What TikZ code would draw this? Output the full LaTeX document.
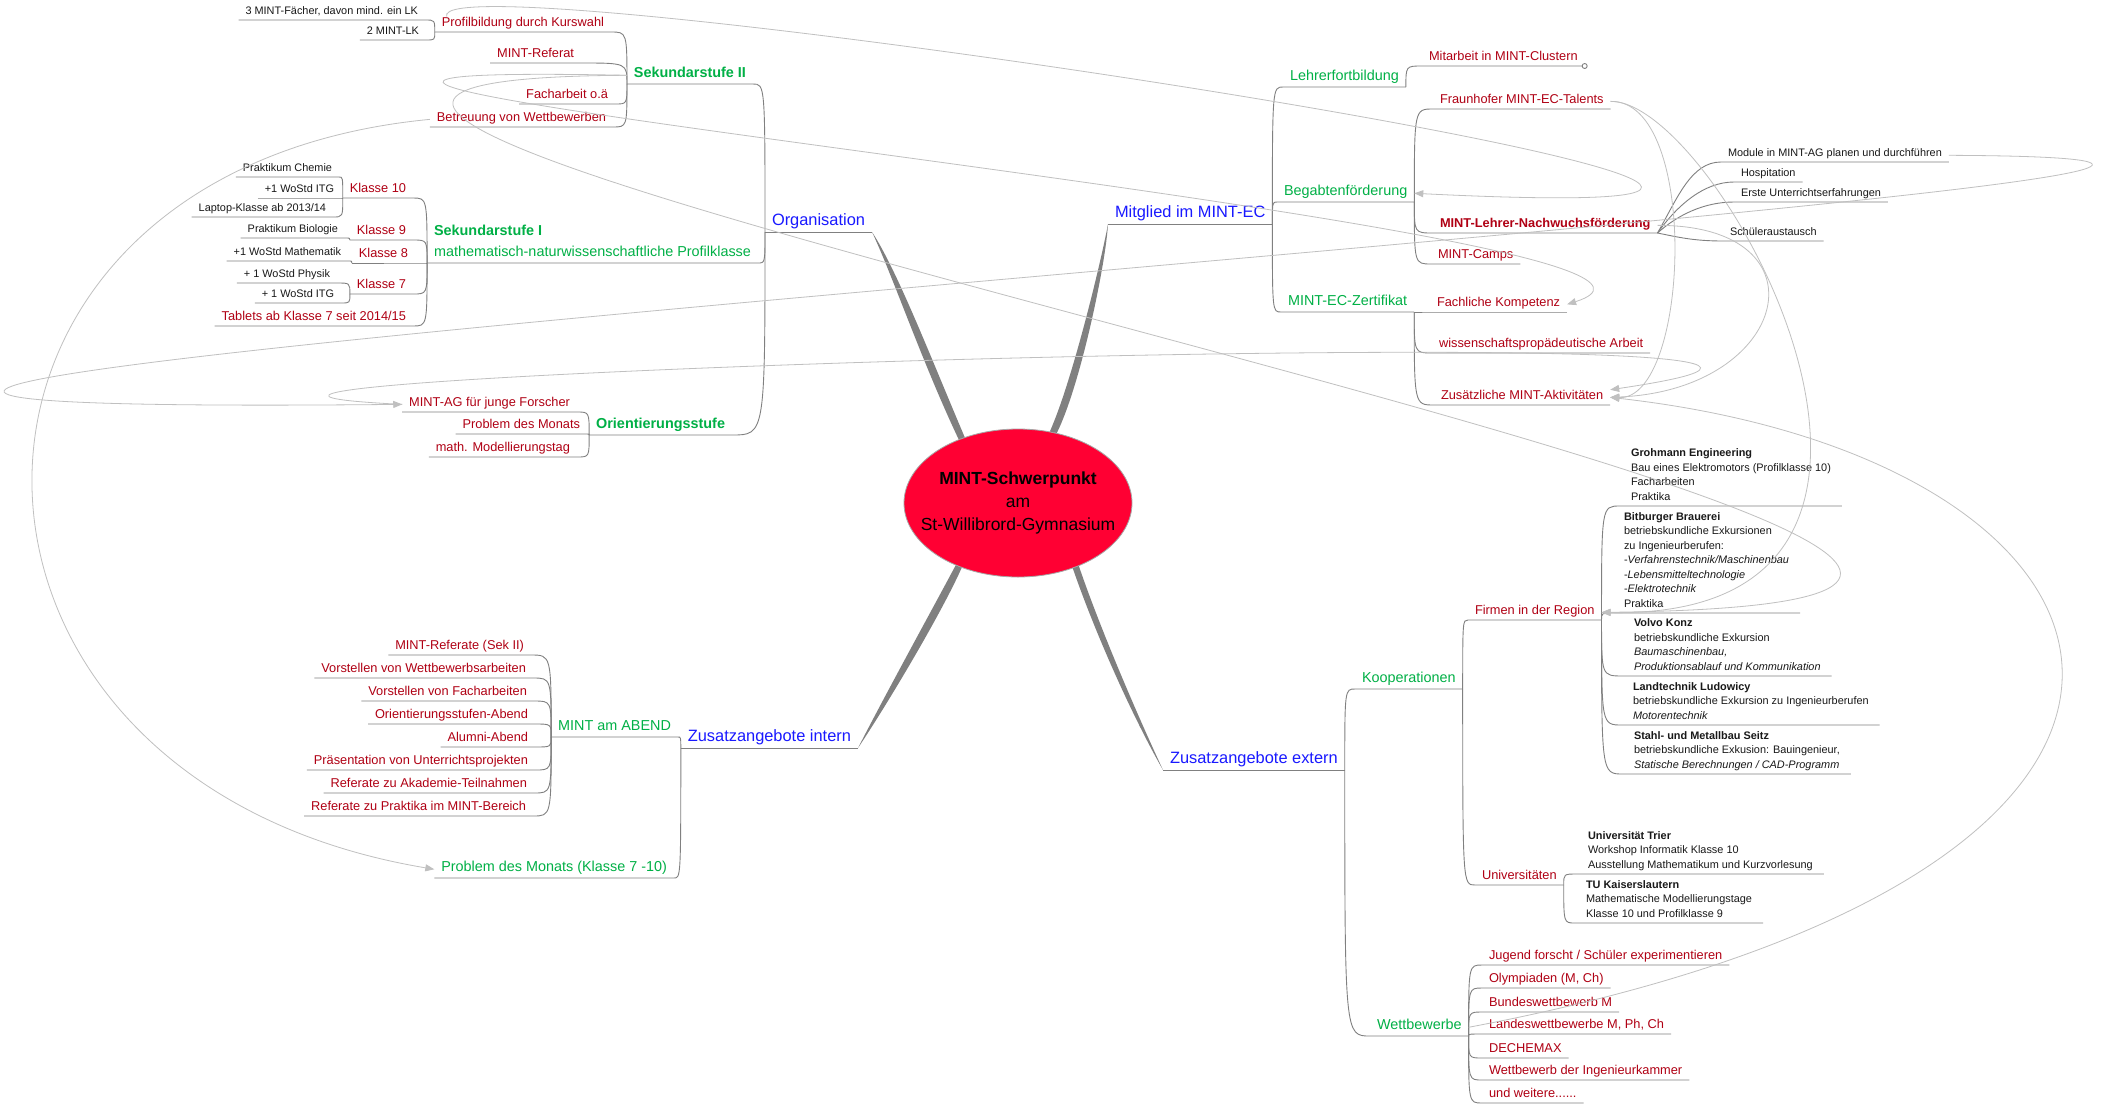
\documentclass[tikz,border=0pt]{standalone}
\usepackage{fontspec}
\setsansfont{Liberation Sans}
\usetikzlibrary{arrows.meta}
\usetikzlibrary{shapes}

\definecolor{lineGray}{RGB}{128,128,128}
\definecolor{relGray}{RGB}{192,192,192}
\definecolor{topicBlue}{RGB}{25,25,255}
\definecolor{topicGreen}{RGB}{0,176,70}
\definecolor{topicRed}{RGB}{176,0,20}
\definecolor{smallText}{RGB}{25,25,25}
\definecolor{coreRed}{RGB}{255,0,51}

\begin{document}
\begin{tikzpicture}[x=1pt, y=-1pt, font=\sffamily]
	\tikzstyle{nodeStyle} = [inner xsep=7pt, inner ysep=0pt, outer sep=0pt]
	\tikzstyle{blueStyle} = [nodeStyle, text depth=7pt, text=topicBlue, font=\sffamily\fontsize{16.4}{19}\selectfont]
	\tikzstyle{greenStyle} = [nodeStyle, text depth=7pt, text=topicGreen, font=\sffamily\fontsize{14.4}{17}\selectfont]
	\tikzstyle{greenBoldStyle} = [greenStyle, font=\sffamily\bfseries\fontsize{14.4}{17}\selectfont]
	\tikzstyle{sekStyle} = [nodeStyle, align=left, text=topicGreen, font=\sffamily\fontsize{14.4}{21}\selectfont]
	\tikzstyle{redStyle} = [nodeStyle, text depth=6pt, text=topicRed, font=\sffamily\fontsize{12.8}{15}\selectfont]
	\tikzstyle{redBoldStyle} = [redStyle, font=\sffamily\bfseries\fontsize{12.8}{15}\selectfont]
	\tikzstyle{smallStyle} = [nodeStyle, text depth=5.5pt, text=smallText, font=\sffamily\fontsize{10.9}{13}\selectfont]
	\tikzstyle{blockStyle} = [nodeStyle, inner xsep=11pt, align=left, text=smallText, font=\sffamily\fontsize{10.9}{14.5}\selectfont]
	\tikzstyle{coreStyle} = [shape=ellipse, minimum width=228pt, minimum height=148pt, inner sep=-40pt, align=center, fill=coreRed, draw=lineGray!70, line width=0.8pt, font=\sffamily\fontsize{17.5}{23}\selectfont]
	\tikzstyle{branchStyle} = [draw=lineGray, line width=0.9pt]
	\tikzstyle{trunkStyle} = [fill=lineGray]
	\tikzstyle{relationStyle} = [draw=relGray, line width=0.8pt, -{Triangle[length=9pt, width=7pt]}]

	\useasboundingbox (0,0) rectangle (2117,1104);
	\fill[white] (0,0) rectangle (2117,1104);

	% centre and main topics
	\node[coreStyle] (core) at (1018,503) {\textbf{MINT-Schwerpunkt}\\am\\St-Willibrord-Gymnasium};
	\node[blueStyle, anchor=south east] (org) at (872,232) {Organisation};
	\node[blueStyle, anchor=south east] (zint) at (858,748) {Zusatzangebote intern};
	\node[blueStyle, anchor=south west] (mec) at (1108,224) {Mitglied im MINT-EC};
	\node[blueStyle, anchor=south west] (zext) at (1163,770) {Zusatzangebote extern};

	% Organisation
	\node[greenBoldStyle, anchor=south east] (sek2) at (753,84) {Sekundarstufe II};
	\node[redStyle, anchor=south east] (profil) at (611,32) {Profilbildung durch Kurswahl};
	\node[smallStyle, anchor=south east] (lk3) at (425,20) {3 MINT-Fächer, davon mind. ein LK};
	\node[smallStyle, anchor=south east] (lk2) at (426,40) {2 MINT-LK};
	\node[redStyle, anchor=south east] (referat) at (581,63) {MINT-Referat};
	\node[redStyle, anchor=south east] (facharbeit) at (615,104) {Facharbeit o.ä};
	\node[redStyle, anchor=south east] (betreuung) at (613,127) {Betreuung von Wettbewerben};
	\node[sekStyle, anchor=south east] (sek1) at (758,263) {{\bfseries Sekundarstufe I}\\mathematisch-naturwissenschaftliche Profilklasse\rule[-7pt]{0pt}{7pt}};
	\node[redStyle, anchor=south east] (kl10) at (413,198) {Klasse 10};
	\node[smallStyle, anchor=south east] (chemie) at (339,177) {Praktikum Chemie};
	\node[smallStyle, anchor=south east] (itg10) at (341,198) {+1 WoStd ITG};
	\node[smallStyle, anchor=south east] (laptop) at (333,217) {Laptop-Klasse ab 2013/14};
	\node[redStyle, anchor=south east] (kl9) at (413,240) {Klasse 9};
	\node[smallStyle, anchor=south east] (bio) at (345,238) {Praktikum Biologie};
	\node[redStyle, anchor=south east] (kl8) at (415,263) {Klasse 8};
	\node[smallStyle, anchor=south east] (mathe) at (348,261) {+1 WoStd Mathematik};
	\node[redStyle, anchor=south east] (kl7) at (413,294) {Klasse 7};
	\node[smallStyle, anchor=south east] (physik) at (337,283) {+ 1 WoStd Physik};
	\node[smallStyle, anchor=south east] (itg7) at (341,303) {+ 1 WoStd ITG};
	\node[redStyle, anchor=south east] (tablets) at (413,326) {Tablets ab Klasse 7 seit 2014/15};
	\node[greenBoldStyle, anchor=south east] (ostufe) at (732,435) {Orientierungsstufe};
	\node[redStyle, anchor=south east] (mintag) at (577,412) {MINT-AG für junge Forscher};
	\node[redStyle, anchor=south east] (pdm) at (587,434) {Problem des Monats};
	\node[redStyle, anchor=south east] (modell) at (577,457) {math. Modellierungstag};

	% Zusatzangebote intern
	\node[greenStyle, anchor=south east] (abend) at (678,737) {MINT am ABEND};
	\node[redStyle, anchor=south east] (abref) at (531,655) {MINT-Referate (Sek II)};
	\node[redStyle, anchor=south east] (abwett) at (533,678) {Vorstellen von Wettbewerbsarbeiten};
	\node[redStyle, anchor=south east] (abfach) at (534,701) {Vorstellen von Facharbeiten};
	\node[redStyle, anchor=south east] (abort) at (535,724) {Orientierungsstufen-Abend};
	\node[redStyle, anchor=south east] (abalumni) at (535,747) {Alumni-Abend};
	\node[redStyle, anchor=south east] (abpraes) at (535,770) {Präsentation von Unterrichtsprojekten};
	\node[redStyle, anchor=south east] (abakad) at (534,793) {Referate zu Akademie-Teilnahmen};
	\node[redStyle, anchor=south east] (abprakt) at (533,816) {Referate zu Praktika im MINT-Bereich};
	\node[greenStyle, anchor=south east] (pdmk) at (674,878) {Problem des Monats (Klasse 7 -10)};

	% Mitglied im MINT-EC
	\node[greenStyle, anchor=south west] (lehrer) at (1283,87) {Lehrerfortbildung};
	\node[redStyle, anchor=south west] (cluster) at (1422,66) {Mitarbeit in MINT-Clustern};
	\node[greenStyle, anchor=south west] (begabt) at (1277,202) {Begabtenförderung};
	\node[redStyle, anchor=south west] (fraunhofer) at (1433,109) {Fraunhofer MINT-EC-Talents};
	\node[redBoldStyle, anchor=south west] (nachwuchs) at (1433,233) {MINT-Lehrer-Nachwuchsförderung};
	\node[redStyle, anchor=south west] (camps) at (1431,264) {MINT-Camps};
	\node[smallStyle, anchor=south west] (module) at (1721,162) {Module in MINT-AG planen und durchführen};
	\node[smallStyle, anchor=south west] (hospitation) at (1734,182) {Hospitation};
	\node[smallStyle, anchor=south west] (erste) at (1734,202) {Erste Unterrichtserfahrungen};
	\node[smallStyle, anchor=south west] (austausch) at (1723,241) {Schüleraustausch};
	\node[greenStyle, anchor=south west] (zert) at (1281,312) {MINT-EC-Zertifikat};
	\node[redStyle, anchor=south west] (fachlich) at (1430,312) {Fachliche Kompetenz};
	\node[redStyle, anchor=south west] (wissen) at (1432,353) {wissenschaftspropädeutische Arbeit};
	\node[redStyle, anchor=south west] (zusatz) at (1434,405) {Zusätzliche MINT-Aktivitäten};

	% Zusatzangebote extern
	\node[greenStyle, anchor=south west] (koop) at (1355,689) {Kooperationen};
	\node[redStyle, anchor=south west] (firmen) at (1468,620) {Firmen in der Region};
	\node[blockStyle, anchor=south west] (grohmann) at (1620,506) {\textbf{Grohmann Engineering}\\Bau eines Elektromotors (Profilklasse 10)\\Facharbeiten\\Praktika\rule[-6pt]{0pt}{6pt}};
	\node[blockStyle, anchor=south west] (bitburger) at (1613,613) {\textbf{Bitburger Brauerei}\\betriebskundliche Exkursionen\\zu Ingenieurberufen:\\-\textit{Verfahrenstechnik/Maschinenbau}\\-\textit{Lebensmitteltechnologie}\\-\textit{Elektrotechnik}\\Praktika\rule[-6pt]{0pt}{6pt}};
	\node[blockStyle, anchor=south west] (volvo) at (1623,676) {\textbf{Volvo Konz}\\betriebskundliche Exkursion\\\textit{Baumaschinenbau,}\\\textit{Produktionsablauf und Kommunikation}\rule[-6pt]{0pt}{6pt}};
	\node[blockStyle, anchor=south west] (landtechnik) at (1622,725) {\textbf{Landtechnik Ludowicy}\\betriebskundliche Exkursion zu Ingenieurberufen\\\textit{Motorentechnik}\rule[-6pt]{0pt}{6pt}};
	\node[blockStyle, anchor=south west] (stahl) at (1623,774) {\textbf{Stahl- und Metallbau Seitz}\\betriebskundliche Exkusion: Bauingenieur,\\\textit{Statische Berechnungen / CAD-Programm}\rule[-6pt]{0pt}{6pt}};
	\node[redStyle, anchor=south west] (unis) at (1475,885) {Universitäten};
	\node[blockStyle, anchor=south west] (trier) at (1577,874) {\textbf{Universität Trier}\\Workshop Informatik Klasse 10\\Ausstellung Mathematikum und Kurzvorlesung\rule[-6pt]{0pt}{6pt}};
	\node[blockStyle, anchor=south west] (tukl) at (1575,923) {\textbf{TU Kaiserslautern}\\Mathematische Modellierungstage\\Klasse 10 und Profilklasse 9\rule[-6pt]{0pt}{6pt}};
	\node[greenStyle, anchor=south west] (wett) at (1370,1036) {Wettbewerbe};
	\node[redStyle, anchor=south west] (jufo) at (1482,965) {Jugend forscht / Schüler experimentieren};
	\node[redStyle, anchor=south west] (olymp) at (1482,988) {Olympiaden (M, Ch)};
	\node[redStyle, anchor=south west] (bundes) at (1482,1012) {Bundeswettbewerb M};
	\node[redStyle, anchor=south west] (landes) at (1482,1034) {Landeswettbewerbe M, Ph, Ch};
	\node[redStyle, anchor=south west] (dechemax) at (1482,1058) {DECHEMAX};
	\node[redStyle, anchor=south west] (ingkammer) at (1482,1080) {Wettbewerb der Ingenieurkammer};
	\node[redStyle, anchor=south west] (weitere) at (1482,1103) {und weitere......};

	% thick branches from the centre
	\fill[trunkStyle] (org.south east) .. controls (897,270) and (931,358) .. (core.129) -- (core.133) .. controls (922,362) and (892,274) .. (org.south east) -- cycle;
	\fill[trunkStyle] (mec.south west) .. controls (1106,262) and (1081,384) .. (core.61) -- (core.66) .. controls (1072,382) and (1101,262) .. (mec.south west) -- cycle;
	\fill[trunkStyle] (zint.south east) .. controls (890,700) and (942,612) .. (core.229) -- (core.225) .. controls (934,606) and (884,697) .. (zint.south east) -- cycle;
	\fill[trunkStyle] (zext.south west) .. controls (1131,714) and (1094,630) .. (core.310) -- (core.314) .. controls (1100,628) and (1136,712) .. (zext.south west) -- cycle;
	\draw[branchStyle] (org.south west) -- (org.south east);
	\draw[branchStyle] (zint.south west) -- (zint.south east);
	\draw[branchStyle] (mec.south west) -- (mec.south east);
	\draw[branchStyle] (zext.south west) -- (zext.south east);

	% left branches
	\draw[branchStyle] (sek2.south west) -- (sek2.south east) .. controls (org.south west |- sek2.south east) .. (org.south west);
	\draw[branchStyle] (sek1.south west) -- (sek1.south east) .. controls (org.south west |- sek1.south east) .. (org.south west);
	\draw[branchStyle] (ostufe.south west) -- (ostufe.south east) .. controls (org.south west |- ostufe.south east) .. (org.south west);
	\draw[branchStyle] (profil.south west) -- (profil.south east) .. controls (sek2.south west |- profil.south east) .. (sek2.south west);
	\draw[branchStyle] (referat.south west) -- (referat.south east) .. controls (sek2.south west |- referat.south east) .. (sek2.south west);
	\draw[branchStyle] (facharbeit.south west) -- (facharbeit.south east) .. controls (sek2.south west |- facharbeit.south east) .. (sek2.south west);
	\draw[branchStyle] (betreuung.south west) -- (betreuung.south east) .. controls (sek2.south west |- betreuung.south east) .. (sek2.south west);
	\draw[branchStyle] (lk3.south west) -- (lk3.south east) .. controls (profil.south west |- lk3.south east) .. (profil.south west);
	\draw[branchStyle] (lk2.south west) -- (lk2.south east) .. controls (profil.south west |- lk2.south east) .. (profil.south west);
	\draw[branchStyle] (kl10.south west) -- (kl10.south east) .. controls (sek1.south west |- kl10.south east) .. (sek1.south west);
	\draw[branchStyle] (kl9.south west) -- (kl9.south east) .. controls (sek1.south west |- kl9.south east) .. (sek1.south west);
	\draw[branchStyle] (kl8.south west) -- (kl8.south east) .. controls (sek1.south west |- kl8.south east) .. (sek1.south west);
	\draw[branchStyle] (kl7.south west) -- (kl7.south east) .. controls (sek1.south west |- kl7.south east) .. (sek1.south west);
	\draw[branchStyle] (tablets.south west) -- (tablets.south east) .. controls (sek1.south west |- tablets.south east) .. (sek1.south west);
	\draw[branchStyle] (chemie.south west) -- (chemie.south east) .. controls (kl10.south west |- chemie.south east) .. (kl10.south west);
	\draw[branchStyle] (itg10.south west) -- (itg10.south east) .. controls (kl10.south west |- itg10.south east) .. (kl10.south west);
	\draw[branchStyle] (laptop.south west) -- (laptop.south east) .. controls (kl10.south west |- laptop.south east) .. (kl10.south west);
	\draw[branchStyle] (bio.south west) -- (bio.south east) .. controls (kl9.south west |- bio.south east) .. (kl9.south west);
	\draw[branchStyle] (mathe.south west) -- (mathe.south east) .. controls (kl8.south west |- mathe.south east) .. (kl8.south west);
	\draw[branchStyle] (physik.south west) -- (physik.south east) .. controls (kl7.south west |- physik.south east) .. (kl7.south west);
	\draw[branchStyle] (itg7.south west) -- (itg7.south east) .. controls (kl7.south west |- itg7.south east) .. (kl7.south west);
	\draw[branchStyle] (mintag.south west) -- (mintag.south east) .. controls (ostufe.south west |- mintag.south east) .. (ostufe.south west);
	\draw[branchStyle] (pdm.south west) -- (pdm.south east) .. controls (ostufe.south west |- pdm.south east) .. (ostufe.south west);
	\draw[branchStyle] (modell.south west) -- (modell.south east) .. controls (ostufe.south west |- modell.south east) .. (ostufe.south west);
	\draw[branchStyle] (abend.south west) -- (abend.south east) .. controls (zint.south west |- abend.south east) .. (zint.south west);
	\draw[branchStyle] (pdmk.south west) -- (pdmk.south east) .. controls (zint.south west |- pdmk.south east) .. (zint.south west);
	\draw[branchStyle] (abref.south west) -- (abref.south east) .. controls (abend.south west |- abref.south east) .. (abend.south west);
	\draw[branchStyle] (abwett.south west) -- (abwett.south east) .. controls (abend.south west |- abwett.south east) .. (abend.south west);
	\draw[branchStyle] (abfach.south west) -- (abfach.south east) .. controls (abend.south west |- abfach.south east) .. (abend.south west);
	\draw[branchStyle] (abort.south west) -- (abort.south east) .. controls (abend.south west |- abort.south east) .. (abend.south west);
	\draw[branchStyle] (abalumni.south west) -- (abalumni.south east) .. controls (abend.south west |- abalumni.south east) .. (abend.south west);
	\draw[branchStyle] (abpraes.south west) -- (abpraes.south east) .. controls (abend.south west |- abpraes.south east) .. (abend.south west);
	\draw[branchStyle] (abakad.south west) -- (abakad.south east) .. controls (abend.south west |- abakad.south east) .. (abend.south west);
	\draw[branchStyle] (abprakt.south west) -- (abprakt.south east) .. controls (abend.south west |- abprakt.south east) .. (abend.south west);

	% right branches
	\draw[branchStyle] (lehrer.south east) -- (lehrer.south west) .. controls (mec.south east |- lehrer.south west) .. (mec.south east);
	\draw[branchStyle] (begabt.south east) -- (begabt.south west) .. controls (mec.south east |- begabt.south west) .. (mec.south east);
	\draw[branchStyle] (zert.south east) -- (zert.south west) .. controls (mec.south east |- zert.south west) .. (mec.south east);
	\draw[branchStyle] (cluster.south east) -- (cluster.south west) .. controls (lehrer.south east |- cluster.south west) .. (lehrer.south east);
	\draw[branchStyle, fill=white] (cluster.south east) circle (2.5);
	\draw[branchStyle] (fraunhofer.south east) -- (fraunhofer.south west) .. controls (begabt.south east |- fraunhofer.south west) .. (begabt.south east);
	\draw[branchStyle] (nachwuchs.south east) -- (nachwuchs.south west) .. controls (begabt.south east |- nachwuchs.south west) .. (begabt.south east);
	\draw[branchStyle] (camps.south east) -- (camps.south west) .. controls (begabt.south east |- camps.south west) .. (begabt.south east);
	\draw[branchStyle] (module.south east) -- (module.south west) .. controls +(-30,0) and +(20,-35) .. (nachwuchs.south east);
	\draw[branchStyle] (hospitation.south east) -- (hospitation.south west) .. controls +(-30,0) and +(20,-28) .. (nachwuchs.south east);
	\draw[branchStyle] (erste.south east) -- (erste.south west) .. controls +(-30,0) and +(20,-18) .. (nachwuchs.south east);
	\draw[branchStyle] (austausch.south east) -- (austausch.south west) .. controls +(-30,0) and +(20,4) .. (nachwuchs.south east);
	\draw[branchStyle] (fachlich.south east) -- (fachlich.south west) -- (zert.south east);
	\draw[branchStyle] (wissen.south east) -- (wissen.south west) .. controls (zert.south east |- wissen.south west) .. (zert.south east);
	\draw[branchStyle] (zusatz.south east) -- (zusatz.south west) .. controls (zert.south east |- zusatz.south west) .. (zert.south east);
	\draw[branchStyle] (koop.south east) -- (koop.south west) .. controls (zext.south east |- koop.south west) .. (zext.south east);
	\draw[branchStyle] (wett.south east) -- (wett.south west) .. controls (zext.south east |- wett.south west) .. (zext.south east);
	\draw[branchStyle] (firmen.south east) -- (firmen.south west) .. controls (koop.south east |- firmen.south west) .. (koop.south east);
	\draw[branchStyle] (unis.south east) -- (unis.south west) .. controls (koop.south east |- unis.south west) .. (koop.south east);
	\draw[branchStyle] (grohmann.south east) -- (grohmann.south west) .. controls (firmen.south east |- grohmann.south west) .. (firmen.south east);
	\draw[branchStyle] (bitburger.south east) -- (bitburger.south west) .. controls (firmen.south east |- bitburger.south west) .. (firmen.south east);
	\draw[branchStyle] (volvo.south east) -- (volvo.south west) .. controls (firmen.south east |- volvo.south west) .. (firmen.south east);
	\draw[branchStyle] (landtechnik.south east) -- (landtechnik.south west) .. controls (firmen.south east |- landtechnik.south west) .. (firmen.south east);
	\draw[branchStyle] (stahl.south east) -- (stahl.south west) .. controls (firmen.south east |- stahl.south west) .. (firmen.south east);
	\draw[branchStyle] (trier.south east) -- (trier.south west) .. controls (unis.south east |- trier.south west) .. (unis.south east);
	\draw[branchStyle] (tukl.south east) -- (tukl.south west) .. controls (unis.south east |- tukl.south west) .. (unis.south east);
	\draw[branchStyle] (jufo.south east) -- (jufo.south west) .. controls (wett.south east |- jufo.south west) .. (wett.south east);
	\draw[branchStyle] (olymp.south east) -- (olymp.south west) .. controls (wett.south east |- olymp.south west) .. (wett.south east);
	\draw[branchStyle] (bundes.south east) -- (bundes.south west) .. controls (wett.south east |- bundes.south west) .. (wett.south east);
	\draw[branchStyle] (landes.south east) -- (landes.south west) .. controls (wett.south east |- landes.south west) .. (wett.south east);
	\draw[branchStyle] (dechemax.south east) -- (dechemax.south west) .. controls (wett.south east |- dechemax.south west) .. (wett.south east);
	\draw[branchStyle] (ingkammer.south east) -- (ingkammer.south west) .. controls (wett.south east |- ingkammer.south west) .. (wett.south east);
	\draw[branchStyle] (weitere.south east) -- (weitere.south west) .. controls (wett.south east |- weitere.south west) .. (wett.south east);

	% relations
	\draw[relationStyle] (betreuung.west) .. controls (-100,170) and (-100,780) .. (pdmk.west);
	\draw[relationStyle] (sek2.west) .. controls (-273,80) and (2660,600) .. (firmen.east);
	\draw[relationStyle] (sek2.west) .. controls (-150,60) and (1800,230) .. (fachlich.east);
	\draw[relationStyle] ([xshift=12pt]profil.north west) .. controls (420,-50) and (2260,235) .. (begabt.east);
	\draw[relationStyle] (fraunhofer.east) .. controls (1700,100) and (1690,400) .. (zusatz.east);
	\draw[relationStyle] (fraunhofer.east) .. controls (1720,100) and (2000,620) .. (firmen.east);
	\draw[relationStyle] (nachwuchs.east) .. controls (1830,225) and (1790,390) .. (zusatz.east);
	\draw[relationStyle] (wett.east) .. controls (2300,870) and (2170,460) .. (zusatz.east);
	\draw[relationStyle] (mintag.west) .. controls (-100,380) and (2150,310) .. (zusatz.north east);
	\draw[relationStyle] (module.east) .. controls (2900,160) and (-1250,420) .. (mintag.west);
\end{tikzpicture}
\end{document}
